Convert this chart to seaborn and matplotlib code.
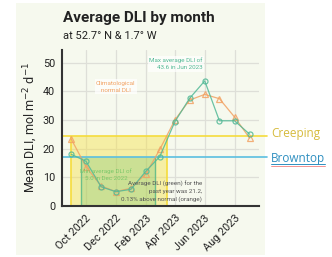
import numpy as np
import pandas as pd
import seaborn as sns
import matplotlib.pyplot as plt
import matplotlib.dates as mdates
from matplotlib.patches import Rectangle
from matplotlib.lines import Line2D

# monthly average DLI
months = pd.date_range("2022-09-01", "2023-09-01", freq="MS")
dli_actual = [18.0, 15.6, 6.7, 5.0, 5.8, 12.2, 17.2, 29.4, 37.5, 43.6, 29.7, 29.7, 25.0]
dli_normal = [23.3, 13.7, 7.0, 5.0, 6.2, 11.3, 19.7, 30.0, 36.9, 38.9, 37.4, 31.0, 23.6]
creeping = 24.4
browntop = 17.0
grass_names = ["Creeping", "Browntop"]

df = pd.DataFrame({"month": months, "actual": dli_actual, "normal": dli_normal})

sns.set_style("white")
plt.rcParams["font.family"] = ["Roboto", "DejaVu Sans"]

panel = "#f6f9ee"
c_green = "#52b996"
c_orange = "#f2a263"
c_yellow = "#f5dc3c"
c_blue = "#5bbfe0"

fig = plt.figure(figsize=(3.32, 2.57), dpi=100)
fig.patches.append(Rectangle((0.048, 0.008), 0.75, 0.98, transform=fig.transFigure,
                             facecolor=panel, edgecolor="none", zorder=-10))
ax = fig.add_axes([0.1867, 0.1984, 0.5934, 0.6086])
ax.set_facecolor(panel)

# first period below each threshold (based on normal DLI)
xnum = mdates.date2num(df["month"])
def below_span(vals, thr):
    vals = np.asarray(vals)
    i0 = int(np.where(vals < thr)[0][0])
    i1 = i0
    while i1 + 1 < len(vals) and vals[i1 + 1] < thr:
        i1 += 1
    if i0 == 0:
        x0 = xnum[0]
    else:
        x0 = xnum[i0 - 1] + (vals[i0 - 1] - thr) / (vals[i0 - 1] - vals[i0]) * (xnum[i0] - xnum[i0 - 1])
    x1 = xnum[i1] + (thr - vals[i1]) / (vals[i1 + 1] - vals[i1]) * (xnum[i1 + 1] - xnum[i1])
    return x0, x1

y0, y1 = below_span(dli_normal, creeping)
ax.fill_between([y0, y1], 0, creeping, color="#f5e14a", alpha=0.45, lw=0, zorder=1)
ax.vlines([y0, y1], 0, creeping, color=c_yellow, lw=1.2, zorder=2)
g0, g1 = below_span(dli_normal, browntop)
ax.fill_between([g0, g1], 0, browntop, color="#6cc070", alpha=0.3, lw=0, zorder=1)
ax.vlines([g0, g1], 0, browntop, color="#6bbf8a", lw=1, zorder=2)

ax.axhline(creeping, xmin=0, xmax=1.04, color=c_yellow, lw=1.2, clip_on=False, zorder=2)
ax.axhline(browntop, xmin=0, xmax=1.04, color=c_blue, lw=1.2, clip_on=False, zorder=2)

sns.lineplot(data=df, x="month", y="normal", ax=ax, color=c_orange, lw=0.9, alpha=0.85,
             marker="^", markersize=4, markerfacecolor="none", markeredgecolor=c_orange,
             markeredgewidth=0.9, zorder=4)
sns.lineplot(data=df, x="month", y="actual", ax=ax, color=c_green, lw=0.9, alpha=0.85,
             marker="o", markersize=3.6, markerfacecolor="none", markeredgecolor=c_green,
             markeredgewidth=0.9, zorder=5)

ax.set_ylim(0, 54.5)
ax.set_xlim(xnum[0] - 19, xnum[-1] + 19)
ax.set_yticks([0, 10, 20, 30, 40, 50])
ax.xaxis.set_major_locator(mdates.MonthLocator(bymonth=[2, 4, 6, 8, 10, 12]))
ax.xaxis.set_major_formatter(mdates.DateFormatter("%b %Y"))
ax.grid(True, color="#dedfd8", lw=0.9, zorder=0)
ax.set_axisbelow(True)
for s in ["top", "right"]:
    ax.spines[s].set_visible(False)
for s in ["left", "bottom"]:
    ax.spines[s].set_color("#333333")
    ax.spines[s].set_linewidth(1.5)
ax.tick_params(axis="both", direction="out", length=3.5, width=1, color="#333333",
               labelsize=7.8, labelcolor="#222222", pad=1.5)
plt.setp(ax.get_xticklabels(), rotation=45, ha="right", rotation_mode="anchor")
ax.set_xlabel("")
ax.set_ylabel("Mean DLI, mol m$^{-2}$ d$^{-1}$", fontsize=9, labelpad=2)

# annotations
ax.text(pd.Timestamp("2022-12-01"), 41.6, "Climatological\nnormal DLI", color=c_orange,
        fontsize=4.5, ha="center", va="center", linespacing=1.5, zorder=6,
        bbox=dict(facecolor="white", alpha=0.7, edgecolor="none", pad=1))
imax = int(np.argmax(dli_actual))
ax.text(pd.Timestamp("2023-05-27"), 49.5,
        "Max average DLI of\n%.1f in %s" % (dli_actual[imax], months[imax].strftime("%b %Y")),
        color=c_green, fontsize=4.5, ha="right", va="center", linespacing=1.5, zorder=6,
        bbox=dict(facecolor="white", alpha=0.7, edgecolor="none", pad=1))
imin = int(np.argmin(dli_actual))
ax.text(pd.Timestamp("2022-11-11"), 10.8,
        "Min average DLI of\n%.1f in %s" % (dli_actual[imin], months[imin].strftime("%b %Y")),
        color="#7cc86a", fontsize=4.5, ha="center", va="center", linespacing=1.5, zorder=6)
ax.text(pd.Timestamp("2023-05-27"), 4.9,
        "Average DLI (green) for the\npast year was 21.2,\n0.13% above normal (orange)",
        color="#555555", fontsize=4.5, ha="right", va="center", linespacing=1.5, zorder=6)

fig.text(0.19, 0.93, "Average DLI by month", fontsize=11, fontweight="bold",
         color="#222222", va="center")
fig.text(0.19, 0.86, "at 52.7\u00b0 N & 1.7\u00b0 W", fontsize=8, color="#222222", va="center")

trans = ax.get_yaxis_transform()
ax.text(1.061, creeping + 1.0, grass_names[0], transform=trans, color="#d6bb3c",
        fontsize=8.5, family=["Open Sans", "DejaVu Sans"], va="center", clip_on=False)
tb = ax.text(1.061, browntop - 0.4, grass_names[1], transform=trans, color="#2e8fc0",
             fontsize=8.5, family=["Open Sans", "DejaVu Sans"], va="center", clip_on=False)

fig.canvas.draw()
bb = tb.get_window_extent()
fx0, fx1 = bb.x0 / fig.bbox.width, bb.x1 / fig.bbox.width
fy = (bb.y0 + 1) / fig.bbox.height
fig.lines.append(Line2D([fx0, fx1], [fy, fy], transform=fig.transFigure, color="#2e8fc0", lw=0.7))
fig.lines.append(Line2D([fx0, fx1], [fy - 0.008, fy - 0.008], transform=fig.transFigure,
                        color="#f08080", lw=0.6))

fig.savefig("out.png", dpi=100)
